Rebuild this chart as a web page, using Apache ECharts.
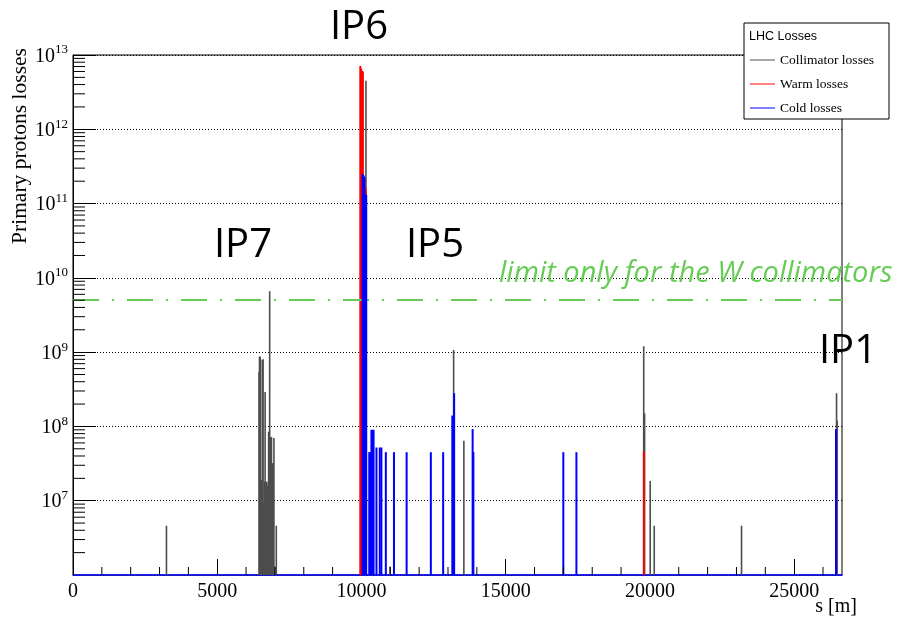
<!DOCTYPE html>
<html><head><meta charset="utf-8">
<script src="https://cdn.jsdelivr.net/npm/echarts@6/dist/echarts.min.js"></script>
<style>html,body{margin:0;padding:0;background:#fff}#c{width:900px;height:621px}</style>
</head><body><div id="c"></div>
<script>
// ---- data ----
const sRange = [0, 26659];            // s [m]
const lossRange = [1e6, 1e13];        // primary protons losses
const wCollimatorLimit = 5e9;

const seriesNames = ['Collimator losses', 'Warm losses', 'Cold losses'];

// [s (m), losses]
const collimatorLosses = [
  [3240, 4.6e6],
  [6450, 5.4e8], [6465, 8.7e8], [6490, 8.7e8], [6525, 1.9e7], [6560, 7.9e8], [6590, 8.0e8],
  [6615, 9.3e6], [6640, 1.8e7], [6660, 2.9e8], [6690, 1.8e7], [6720, 1.8e7], [6750, 1.6e7],
  [6782, 8.5e7], [6818, 6.6e9], [6850, 7.2e7], [6880, 7.2e7], [6910, 3.2e7], [6940, 3.2e7],
  [6965, 7.0e7], [7000, 1.3e6], [7048, 4.6e6],
  [10156, 4.5e12], [10990, 1.3e6],
  [13195, 1.07e9], [13550, 6.4e7],
  [19785, 1.2e9], [19815, 1.5e8], [20010, 1.85e7], [20150, 4.6e6],
  [23176, 4.6e6],
  [26470, 2.8e8], [26490, 1.2e8]
];
const warmLosses = [
  [9960, 7.1e12], [9990, 6.6e12], [10020, 6.1e12], [10050, 6.0e12], [10110, 2.1e11], [10150, 1.6e11],
  [19790, 4.6e7]
];
const coldLosses = [
  [10040, 2.5e11], [10070, 2.4e11], [10100, 2.3e11], [10130, 1.35e11], [10165, 1.3e11],
  [10270, 4.5e7], [10300, 4.5e7], [10345, 9e7], [10380, 9e7], [10420, 9e7],
  [10520, 5.2e7], [10635, 5.2e7], [10690, 5.2e7], [10845, 4.5e7],
  [11127, 4.5e7], [11566, 4.5e7], [12405, 4.5e7], [12832, 4.5e7],
  [13150, 1.4e8], [13213, 2.8e8], [13854, 9.2e7], [13880, 4.5e7],
  [16998, 4.5e7], [17452, 4.5e7],
  [26450, 9.2e7]
];

const xMinorTicks = [1000,2000,3000,4000,6000,7000,8000,9000,11000,12000,13000,14000,
  16000,17000,18000,19000,21000,22000,23000,24000,26000];
const yMinorTicks = [];
for (let e = 6; e < 13; e++) for (let m = 2; m <= 9; m++) yMinorTicks.push(m * Math.pow(10, e));

// ---- chart ----
const serif = 'Liberation Serif';
const chart = echarts.init(document.getElementById('c'), null, {renderer: 'canvas'});

function barSeries(name, data, color, width, z) {
  return {
    name, type: 'custom', data, z, clip: true,
    itemStyle: {color},
    encode: {x: 0, y: 1},
    renderItem: (params, api) => {
      const top = api.coord([api.value(0), api.value(1)]);
      const base = api.coord([api.value(0), lossRange[0]]);
      return {type: 'rect',
        shape: {x: top[0] - width / 2, y: top[1], width: width, height: base[1] - top[1]},
        style: {fill: color}};
    }
  };
}

const option = {
  animation: false,
  backgroundColor: '#fff',
  grid: {left: 73, right: 58, top: 55, bottom: 46, show: true, borderColor: '#000', borderWidth: 1},
  xAxis: {
    type: 'value', min: sRange[0], max: sRange[1], interval: 5000,
    axisLine: {lineStyle: {color: '#0000ff', width: 1.5}},
    axisTick: {inside: true, length: 16, lineStyle: {color: '#000'}},
    axisLabel: {showMaxLabel: false, margin: 7, color: '#000', fontFamily: serif, fontSize: 20,
      formatter: v => String(v)},
    splitLine: {show: false}
  },
  yAxis: {
    type: 'log', logBase: 10, min: lossRange[0], max: lossRange[1], interval: 1,
    axisLine: {lineStyle: {color: '#000'}},
    axisTick: {inside: true, length: 23, lineStyle: {color: '#000'}},
    axisLabel: {
      showMinLabel: false, margin: 5,
      formatter: v => (v <= lossRange[0] * 1.001) ? '' : '{b|10}{e|' + Math.round(Math.log10(v)) + '}',
      rich: {
        b: {fontFamily: serif, fontSize: 20, color: '#000', verticalAlign: 'bottom'},
        e: {fontFamily: serif, fontSize: 13, color: '#000', verticalAlign: 'bottom', padding: [0, 0, 10, 0]}
      }
    },
    splitLine: {show: true, lineStyle: {color: '#000', type: [1, 2], width: 1}}
  },
  legend: {
    data: seriesNames, orient: 'vertical', left: 750, top: 52, z: 100, padding: 0,
    itemWidth: 25, itemHeight: 1, itemGap: 8, icon: 'rect',
    textStyle: {fontFamily: serif, fontSize: 13.5, color: '#000', lineHeight: 16}
  },
  graphic: [
    {type: 'rect', z: 50, shape: {x: 744, y: 23, width: 145, height: 96},
      style: {fill: '#fff', stroke: '#000', lineWidth: 1}},
    {type: 'text', z: 60, x: 749, y: 30, style: {text: 'LHC Losses', font: '12.5px "Liberation Sans"', fill: '#000'}},
    {type: 'text', z: 60, x: 20, y: 146, rotation: Math.PI / 2,
      style: {text: 'Primary protons losses', font: '21.5px "Liberation Serif"', fill: '#000',
        textAlign: 'center', textVerticalAlign: 'middle'}},
    {type: 'text', z: 60, x: 857, y: 607, style: {text: 's [m]', font: '20px "Liberation Serif"', fill: '#000',
        textAlign: 'right', textVerticalAlign: 'middle'}},
    {type: 'text', z: 60, x: 359, y: 28, style: {text: 'IP6', font: '40px "Open Sans"', fill: '#000', textAlign: 'center', textVerticalAlign: 'middle'}},
    {type: 'text', z: 60, x: 243, y: 246, style: {text: 'IP7', font: '40px "Open Sans"', fill: '#000', textAlign: 'center', textVerticalAlign: 'middle'}},
    {type: 'text', z: 60, x: 435, y: 246, style: {text: 'IP5', font: '40px "Open Sans"', fill: '#000', textAlign: 'center', textVerticalAlign: 'middle'}},
    {type: 'text', z: 60, x: 848, y: 352, style: {text: 'IP1', font: '40px "Open Sans"', fill: '#000', textAlign: 'center', textVerticalAlign: 'middle'}},
    {type: 'text', z: 60, x: 499, y: 274, style: {text: 'limit only for the W collimators', font: 'italic 29px "Open Sans"', fill: '#66cc55', textAlign: 'left', textVerticalAlign: 'middle'}}
  ],
  series: [
    Object.assign(barSeries(seriesNames[0], collimatorLosses, '#4d4d4d', 1.6, 3), {
      markLine: {
        silent: true, symbol: 'none', label: {show: false},
        lineStyle: {color: '#66cc55', width: 2, type: [26, 13, 2, 13]},
        data: [{yAxis: wCollimatorLimit}]
      }
    }),
    barSeries(seriesNames[1], warmLosses, '#ff0000', 2, 4),
    barSeries(seriesNames[2], coldLosses, '#0000ff', 2, 5),
    {
      type: 'custom', silent: true, z: 6, clip: false,
      data: yMinorTicks.map(v => [sRange[0], v]),
      renderItem: (params, api) => {
        const p = api.coord([api.value(0), api.value(1)]);
        return {type: 'line', shape: {x1: p[0], y1: p[1], x2: p[0] + 12, y2: p[1]}, style: {stroke: '#000', lineWidth: 1}};
      }
    },
    {
      type: 'custom', silent: true, z: 6, clip: false,
      data: xMinorTicks.map(v => [v, lossRange[0]]),
      renderItem: (params, api) => {
        const p = api.coord([api.value(0), api.value(1)]);
        return {type: 'line', shape: {x1: p[0], y1: p[1], x2: p[0], y2: p[1] - 8}, style: {stroke: '#000', lineWidth: 1}};
      }
    }
  ]
};
chart.setOption(option);
</script></body></html>
